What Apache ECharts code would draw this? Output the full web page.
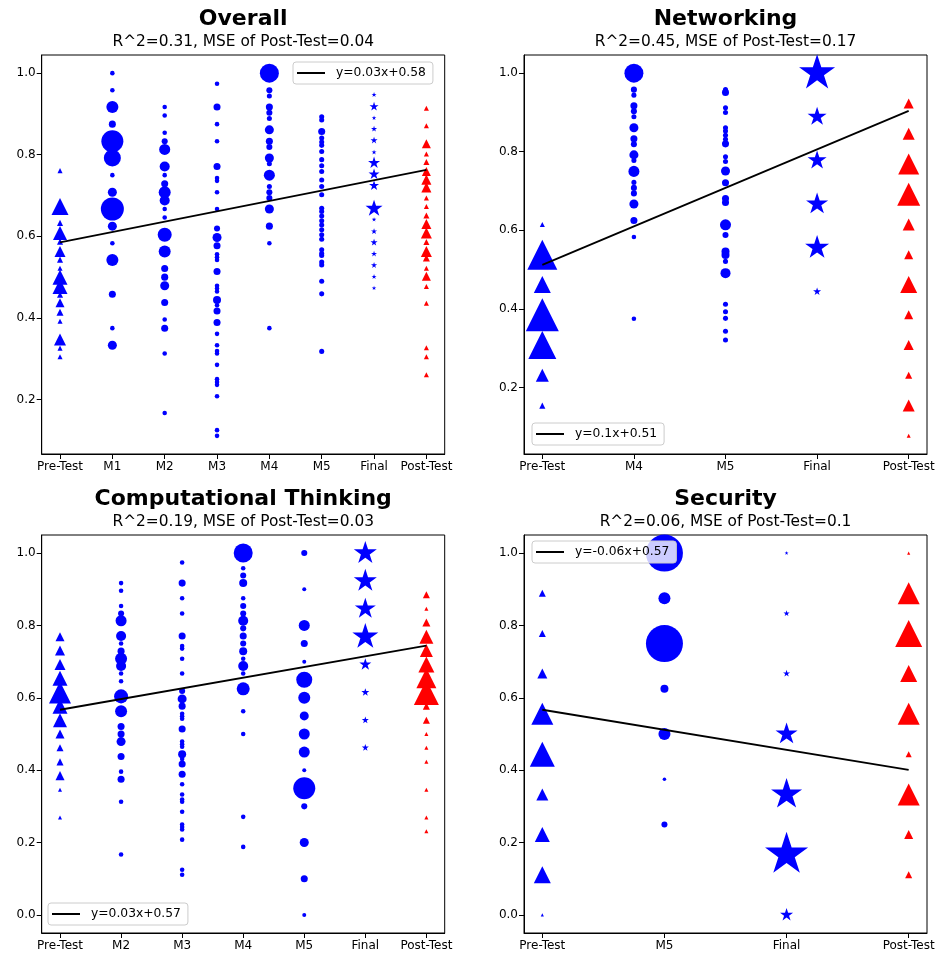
<!DOCTYPE html>
<html>
<head>
<meta charset="utf-8">
<script src="https://cdn.jsdelivr.net/npm/echarts@6/dist/echarts.min.js"></script>
<style>
html,body{margin:0;padding:0;background:#fff}
#chart{width:939px;height:960px}
</style>
</head>
<body>
<div id="chart"></div>
<script>
// ---------------- data (value, weight) ----------------
const overallCategories = ['Pre-Test','M1','M2','M3','M4','M5','Final','Post-Test'];
const networkingCategories = ['Pre-Test','M4','M5','Final','Post-Test'];
const ctCategories = ['Pre-Test','M2','M3','M4','M5','Final','Post-Test'];
const securityCategories = ['Pre-Test','M5','Final','Post-Test'];

const overallPreTest = [[0.761,1.6],[0.673,18.1],[0.633,2.3],[0.608,12.3],[0.587,2.3],[0.563,7.6],[0.543,2.3],[0.522,1.6],[0.500,14.1],[0.477,14.1],[0.457,2.3],[0.437,5.1],[0.414,3.1],[0.392,1.6],[0.347,9],[0.326,1.6],[0.305,1.6]];
const overallM1 = [[1,1.3],[0.958,1.3],[0.917,9],[0.875,3.1],[0.833,30.3],[0.792,18.1],[0.75,1.3],[0.708,5.1],[0.667,33.1],[0.625,5.1],[0.583,1.3],[0.542,9],[0.458,3.1],[0.375,1.3],[0.333,5.1]];
const moduleM2 = [[0.917,1.3],[0.896,1.3],[0.854,1.3],[0.833,2.3],[0.813,7.6],[0.771,6.3],[0.75,1.3],[0.729,3.1],[0.708,9],[0.688,6.3],[0.667,1.3],[0.646,1.3],[0.604,12.3],[0.563,9],[0.521,3.1],[0.5,3.1],[0.479,5.1],[0.438,3.1],[0.396,1.3],[0.375,3.1],[0.313,1.3],[0.167,1.3]];
const moduleM3 = [[0.974,1.3],[0.917,3.1],[0.875,1.3],[0.833,1.3],[0.771,3.1],[0.743,1.3],[0.736,1.3],[0.708,1.3],[0.667,1.3],[0.619,2.3],[0.597,5.1],[0.577,3.1],[0.556,1.3],[0.549,1.3],[0.542,1.3],[0.514,3.1],[0.479,1.3],[0.472,1.3],[0.465,1.3],[0.444,4],[0.431,1.3],[0.417,3.1],[0.389,3.1],[0.361,1.3],[0.333,1.3],[0.319,1.3],[0.313,1.3],[0.285,1.3],[0.25,1.3],[0.243,1.3],[0.236,1.3],[0.208,1.3],[0.125,1.3],[0.111,1.3]];
const networkingM4 = [[1,22.6],[0.958,2.3],[0.944,1.6],[0.917,3.1],[0.903,2.3],[0.889,1.6],[0.861,5.1],[0.833,3.1],[0.819,2.3],[0.792,5.1],[0.778,1.6],[0.75,7.6],[0.722,1.6],[0.708,2.3],[0.694,2.3],[0.667,5.1],[0.625,3.1],[0.583,1.3],[0.375,1.3]];
const overallM5 = [[0.893,1.6],[0.885,1.6],[0.857,3.1],[0.841,1.6],[0.831,1.6],[0.823,1.6],[0.808,1.6],[0.788,1.6],[0.773,1.6],[0.759,1.6],[0.738,1.6],[0.722,1.6],[0.702,1.6],[0.669,1.6],[0.661,1.6],[0.650,1.6],[0.638,1.6],[0.628,1.6],[0.616,1.6],[0.604,1.6],[0.593,1.6],[0.567,1.6],[0.558,1.6],[0.553,1.6],[0.537,1.6],[0.530,1.6],[0.490,1.6],[0.459,1.6],[0.318,1.6]];
const overallFinal = [[0.947,1.6],[0.918,5.1],[0.890,1.3],[0.863,2.3],[0.835,3.1],[0.806,1.6],[0.780,9],[0.752,7.6],[0.724,6.3],[0.668,18.1],[0.641,1.3],[0.612,2.3],[0.585,3.1],[0.557,2.3],[0.529,2.3],[0.501,1.6],[0.473,1.3]];
const overallPostTest = [[0.914,1.6],[0.871,1.6],[0.827,5.1],[0.802,1.6],[0.782,2.3],[0.759,5.1],[0.739,6.3],[0.720,6.3],[0.694,1.6],[0.673,1.6],[0.651,2.3],[0.630,6.3],[0.608,7.6],[0.586,2.3],[0.563,7.6],[0.547,3.1],[0.522,1.6],[0.502,5.1],[0.477,1.6],[0.436,1.6],[0.327,1.6],[0.305,1.6],[0.261,1.6]];

const networkingPreTest = [[0.615,1.6],[0.538,56.3],[0.462,18.1],[0.385,68.1],[0.308,49],[0.231,10.6],[0.154,2.3]];
const networkingM5 = [[0.958,1.6],[0.951,3.1],[0.912,1.6],[0.900,1.6],[0.861,1.6],[0.853,1.6],[0.842,1.6],[0.832,1.6],[0.820,3.1],[0.787,1.6],[0.775,1.6],[0.751,5.1],[0.721,3.1],[0.681,3.1],[0.671,3.1],[0.614,7.6],[0.588,2.3],[0.546,4],[0.537,4],[0.521,1.6],[0.491,6.3],[0.412,1.6],[0.393,1.6],[0.376,1.6],[0.343,1.6],[0.321,1.6]];
const networkingFinal = [[1,81],[0.889,22.6],[0.778,22.6],[0.667,30.3],[0.556,36],[0.444,4]];
const networkingPostTest = [[0.923,6.3],[0.846,9],[0.769,27.6],[0.692,33.1],[0.615,9],[0.538,5.1],[0.462,18.1],[0.385,5.1],[0.308,6.3],[0.231,3.1],[0.154,9],[0.077,1]];

const ctPreTest = [[0.769,5.1],[0.731,6.3],[0.692,7.6],[0.654,14.1],[0.615,30.3],[0.577,14.1],[0.538,12.3],[0.5,5.1],[0.462,3.1],[0.423,3.1],[0.385,5.1],[0.346,1],[0.269,1]];
const ctM4 = [[1,22.6],[0.958,1.3],[0.938,2.3],[0.917,4],[0.875,1.3],[0.854,2.3],[0.833,2.3],[0.813,6.3],[0.792,2.3],[0.771,3.1],[0.75,2.3],[0.729,4],[0.708,1.3],[0.688,6.3],[0.667,1.3],[0.625,10.6],[0.563,1.3],[0.5,1.3],[0.271,1.3],[0.188,1.3]];
const ctM5 = [[1,2.3],[0.9,1],[0.8,7.6],[0.75,3.1],[0.7,1],[0.65,16],[0.6,9],[0.55,5.1],[0.5,7.6],[0.45,7.6],[0.4,1],[0.35,30.3],[0.3,2.3],[0.2,5.1],[0.1,3.1],[0,1]];
const ctFinal = [[1,33.1],[0.923,33.1],[0.846,27.6],[0.769,42],[0.692,9],[0.615,4],[0.538,3.1],[0.462,3.1]];
const ctPostTest = [[0.885,3.1],[0.846,1],[0.808,4],[0.769,12.3],[0.731,10.6],[0.692,16],[0.654,25],[0.615,39.1],[0.577,3.1],[0.538,3.1],[0.5,1],[0.462,1],[0.423,1],[0.346,1],[0.269,1],[0.231,1]];

const securityPreTest = [[0.889,3.1],[0.778,3.1],[0.667,6.3],[0.556,30.3],[0.444,39.1],[0.333,9],[0.222,14.1],[0.111,18.1],[0,0.6]];
const securityM5 = [[1,85.6],[0.875,9],[0.75,85.6],[0.625,4],[0.5,9],[0.375,0.8],[0.25,2.3]];
const securityFinal = [[1,1],[0.833,2.3],[0.667,3.1],[0.5,30.3],[0.333,60.1],[0.167,115.6],[0,10.6]];
const securityPostTest = [[1,0.6],[0.889,30.3],[0.778,45.6],[0.667,18.1],[0.556,30.3],[0.444,2.3],[0.333,30.3],[0.222,5.1],[0.111,3.1]];

// regression fits (slope, intercept) and texts
const overallFit = [0.0254, 0.585];
const networkingFit = [0.098, 0.512];
const ctFit = [0.0295, 0.567];
const securityFit = [-0.0553, 0.567];
const fitLabels = ['y=0.03x+0.58','y=0.1x+0.51','y=0.03x+0.57','y=-0.06x+0.57'];
const titles = ['Overall','Networking','Computational Thinking','Security'];
const subtitles = ['R^2=0.31, MSE of Post-Test=0.04','R^2=0.45, MSE of Post-Test=0.17','R^2=0.19, MSE of Post-Test=0.03','R^2=0.06, MSE of Post-Test=0.1'];
const yTicksTop = [0.2,0.4,0.6,0.8,1.0];
const yTicksBottom = [0.0,0.2,0.4,0.6,0.8,1.0];

// ---------------- layout & style ----------------
const FONT = 'DejaVu Sans';
const BLUE = '#0000ff', RED = '#ff0000';
const STAR = 'path://M50,0L61.22,34.55L97.55,34.55L68.16,55.9L79.39,90.45L50,69.1L20.61,90.45L31.84,55.9L2.45,34.55L38.78,34.55Z M49.9,100L50.1,100Z';

const panels = [
  {cats: overallCategories, cols: [overallPreTest, overallM1, moduleM2, moduleM3, networkingM4, overallM5, overallFinal, overallPostTest], fit: overallFit, yTicks: yTicksTop,
   grid: {left: 41.7, top: 55, width: 403, height: 399}, titleTop: 8, subTop: 34, legend: {left: 293, top: 62}},
  {cats: networkingCategories, cols: [networkingPreTest, networkingM4, networkingM5, networkingFinal, networkingPostTest], fit: networkingFit, yTicks: yTicksTop,
   grid: {left: 524, top: 55, width: 403, height: 399}, titleTop: 8, subTop: 34, legend: {left: 532, top: 423}},
  {cats: ctCategories, cols: [ctPreTest, moduleM2, moduleM3, ctM4, ctM5, ctFinal, ctPostTest], fit: ctFit, yTicks: yTicksBottom,
   grid: {left: 41.7, top: 535, width: 403, height: 398}, titleTop: 488, subTop: 514, legend: {left: 48, top: 903}},
  {cats: securityCategories, cols: [securityPreTest, securityM5, securityFinal, securityPostTest], fit: securityFit, yTicks: yTicksBottom,
   grid: {left: 524, top: 535, width: 403, height: 398}, titleTop: 488, subTop: 514, legend: {left: 532, top: 541}}
];

function styleFor(cat) {
  if (cat === 'Pre-Test') return {symbol: 'triangle', color: BLUE};
  if (cat === 'Post-Test') return {symbol: 'triangle', color: RED};
  if (cat === 'Final') return {symbol: STAR, color: BLUE, star: true};
  return {symbol: 'circle', color: BLUE};
}

const grids = [], xAxes = [], yAxes = [], series = [], titleList = [], legends = [];
panels.forEach((p, i) => {
  const n = p.cats.length;
  grids.push(Object.assign({show: true, borderColor: '#000', borderWidth: 1, backgroundColor: 'transparent'}, p.grid));
  const m = 0.05 * (n - 1);
  const idx = p.cats.map((_, k) => k);
  xAxes.push({type: 'value', gridIndex: i, min: -m, max: n - 1 + m, splitLine: {show: false},
    axisLine: {show: true, onZero: false, lineStyle: {color: '#000', width: 1}},
    axisTick: {show: true, length: 5, customValues: idx, lineStyle: {color: '#000', width: 1}},
    axisLabel: {customValues: idx, formatter: v => p.cats[Math.round(v)] || '', fontFamily: FONT, fontSize: 12, color: '#000', margin: 7}});
  let lo = Infinity, hi = -Infinity;
  p.cols.forEach(c => c.forEach(([v]) => { lo = Math.min(lo, v); hi = Math.max(hi, v); }));
  const pad = (hi - lo) * 0.05;
  yAxes.push({type: 'value', gridIndex: i, min: lo - pad, max: hi + pad, splitLine: {show: false},
    axisLine: {show: true, onZero: false, lineStyle: {color: '#000', width: 1}},
    axisTick: {show: true, length: 5, customValues: p.yTicks, lineStyle: {color: '#000', width: 1}},
    axisLabel: {customValues: p.yTicks, formatter: v => v.toFixed(1), fontFamily: FONT, fontSize: 12, color: '#000', margin: 6}});

  p.cols.forEach((col, k) => {
    const st = styleFor(p.cats[k]);
    series.push({type: 'scatter', xAxisIndex: i, yAxisIndex: i, symbol: st.symbol, symbolKeepAspect: true,
      symbolSize: d => 4 * Math.sqrt(d[2]) / (st.star ? 0.951 : 1),
      itemStyle: {color: st.color, opacity: 1}, silent: true, emphasis: {disabled: true}, z: 2,
      data: col.map(([v, w]) => [k, v, w])});
  });
  const [a, b] = p.fit;
  series.push({type: 'line', name: fitLabels[i], xAxisIndex: i, yAxisIndex: i, symbol: 'none', silent: true, z: 5,
    lineStyle: {color: '#000', width: 1.8}, itemStyle: {color: '#000'},
    data: [[0, b], [n - 1, b + a * (n - 1)]]});

  const cx = p.grid.left + p.grid.width / 2;
  titleList.push({text: titles[i], left: cx, top: p.titleTop, textAlign: 'center', padding: 0,
    textStyle: {fontFamily: FONT, fontSize: 22, fontWeight: 'bold', color: '#000'}});
  titleList.push({text: subtitles[i], left: cx, top: p.subTop, textAlign: 'center', padding: 0,
    textStyle: {fontFamily: FONT, fontSize: 15.4, fontWeight: 'normal', color: '#000'}});
  legends.push({data: [{name: fitLabels[i], icon: 'rect'}], left: p.legend.left, top: p.legend.top, selectedMode: false,
    itemWidth: 28, itemHeight: 2, padding: [5, 7, 5, 4], backgroundColor: 'rgba(255,255,255,0.8)',
    borderColor: '#cccccc', borderWidth: 1, borderRadius: 3,
    textStyle: {fontFamily: FONT, fontSize: 12.3, color: '#000', padding: [0, 0, 0, 6]}});
});

const chart = echarts.init(document.getElementById('chart'), null, {renderer: 'canvas'});
chart.setOption({
  animation: false,
  backgroundColor: '#fff',
  textStyle: {fontFamily: FONT},
  title: titleList,
  legend: legends,
  grid: grids,
  xAxis: xAxes,
  yAxis: yAxes,
  series: series
});
</script>
</body>
</html>
